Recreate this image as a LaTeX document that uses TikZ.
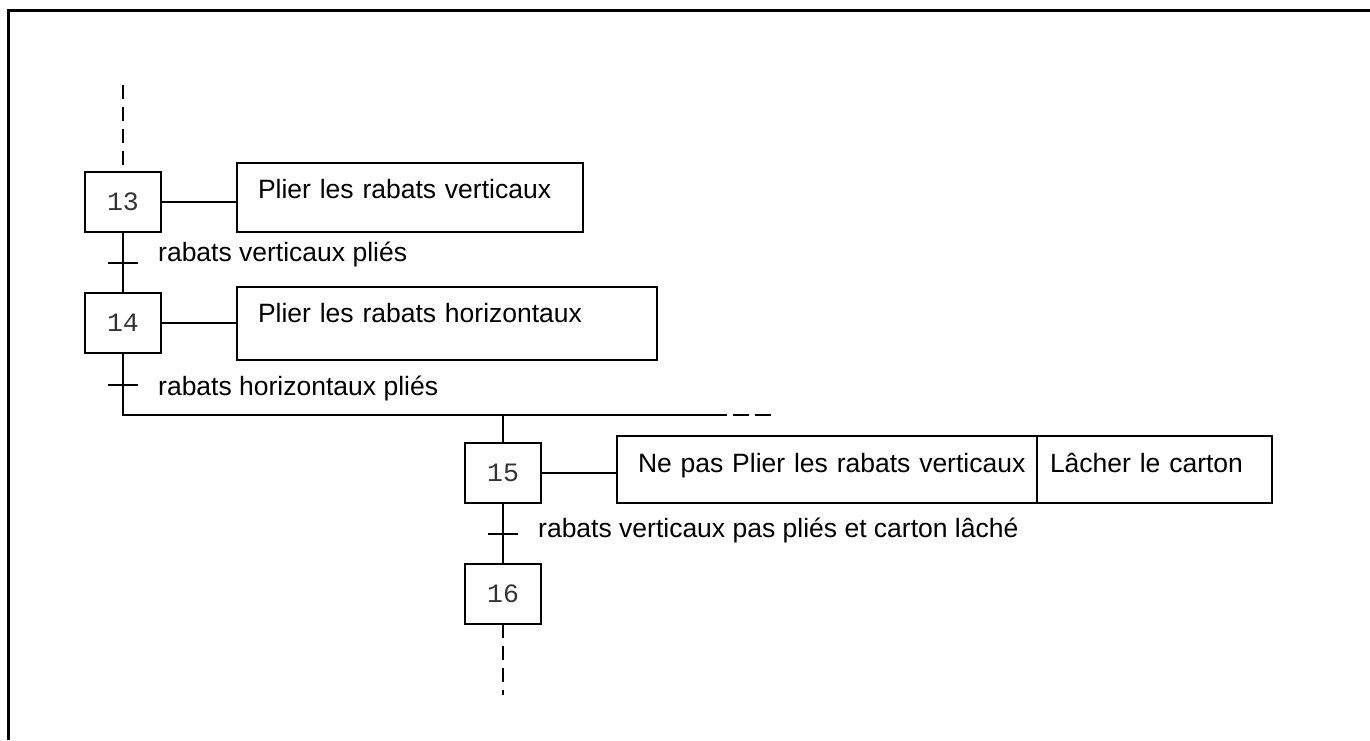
\documentclass[tikz,border=0pt]{standalone}
\usepackage{fontspec}
\setmainfont{Liberation Sans}
\newfontfamily\stepfont{Liberation Mono}
\usetikzlibrary{positioning}
\tikzset{
  stepbox/.style={
    rectangle, draw, line width=2pt, minimum width=76pt, minimum height=60pt,
    inner sep=0pt, outer sep=0pt, font=\fontsize{26.5}{30}\stepfont,
    text=black!80
  },
  action/.style={
    rectangle, draw, line width=2pt, inner xsep=21pt, inner ysep=0pt,
    outer sep=0pt, text height=35pt, text depth=34pt, align=left,
    font=\fontsize{26.5}{30}\selectfont
  },
  cond/.style={anchor=base west, inner sep=0pt, font=\fontsize{26.5}{30}\selectfont},
  link/.style={line width=2pt},
  tick/.style={line width=2pt},
  dashlink/.style={line width=2pt, dash pattern=on 14pt off 8pt}
}
\begin{document}
\begin{tikzpicture}[x=1pt, y=-1pt]
  \useasboundingbox (0,0) rectangle (1370,740);
  % Frame
  \draw[line width=3pt] (8,740) -- (8,10) -- (1370,10);

  % Steps
  \node[stepbox] (s13) at (123,202) {13};
  \node[stepbox, below=61pt of s13] (s14) {14};
  \node[stepbox] (s15) at (503,472.5) {15};
  \node[stepbox, below=61pt of s15] (s16) {16};

  % Actions
  \node[action, anchor=north west, text width=304pt] (a13) at (237,163)
    {\mbox{Plier les rabats verticaux}};
  \node[action, anchor=north west, text width=378pt, text depth=38pt] (a14) at (237,287)
    {\mbox{Plier les rabats horizontaux}};
  \node[action, anchor=north west, text width=378pt, text height=36pt, text depth=31pt] (a15) at (617,436)
    {\mbox{Ne pas Plier les rabats verticaux}};
  \node[action, right=0pt of a15, inner xsep=13pt, text width=209pt, text height=36pt, text depth=31pt] (a15b)
    {\mbox{Lâcher le carton}};

  % Links
  \coordinate (in13) at (123,85);
  \coordinate (t13) at (123,263);
  \coordinate (t14) at (123,385);
  \coordinate (jl) at (123,415);
  \coordinate (jr) at (727,415);
  \coordinate (je) at (771,415);
  \coordinate (t15) at (503,534);
  \coordinate (out16) at (503,695);

  \draw[dashlink] (in13) -- (s13.north);
  \draw[link] (s13.east) -- (s13.east -| a13.west);
  \draw[link] (s13) -- (s14);
  \draw[link] (s14.east) -- (s14.east -| a14.west);
  \draw[link] (s14) -- (jl) -- (jr);
  \draw[line width=2pt, dash pattern=on 16pt off 6pt] ([xshift=6pt]jr) -- (je);
  \draw[link] (s15.north |- jl) -- (s15);
  \draw[link] (s15.east) -- (s15.east -| a15.west);
  \draw[link] (s15) -- (s16);
  \draw[dashlink] (s16.south) -- (out16);

  % Transitions
  \draw[tick] ([xshift=-15pt]t13) -- ([xshift=15pt]t13);
  \draw[tick] ([xshift=-15pt]t14) -- ([xshift=15pt]t14);
  \draw[tick] ([xshift=-15pt]t15) -- ([xshift=15pt]t15);
  \node[cond] (c13) at (158,261) {rabats verticaux pliés};
  \node[cond] (c14) at (158,395) {rabats horizontaux pliés};
  \node[cond] (c15) at (538,537) {rabats verticaux pas pliés et carton lâché};
\end{tikzpicture}
\end{document}
